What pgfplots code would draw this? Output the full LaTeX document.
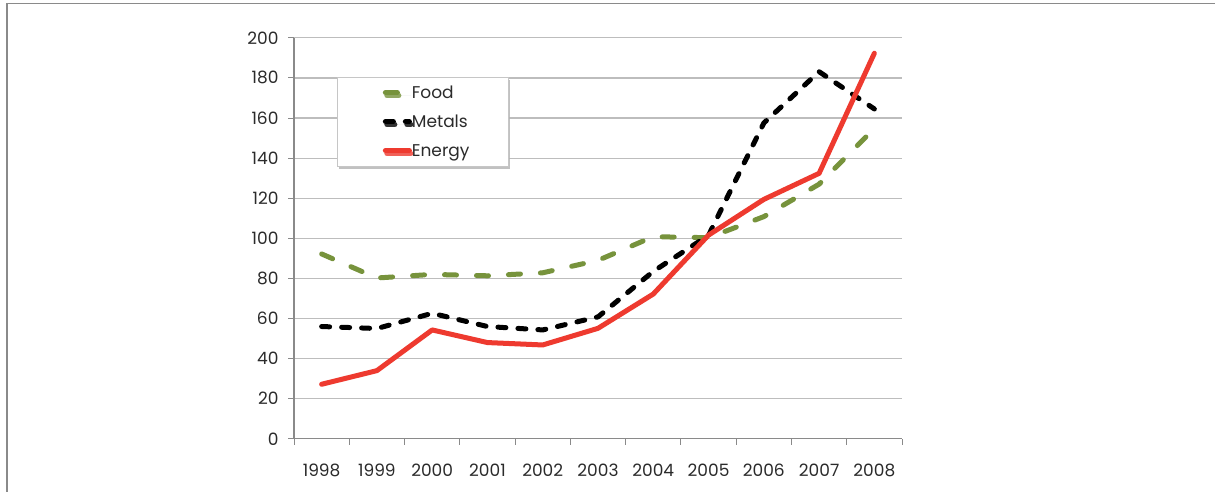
\documentclass[border=0pt]{standalone}
\usepackage{pgfplots}
\pgfplotsset{compat=1.18}
\usepackage{fontspec}
\setmainfont{Poppins}
\usetikzlibrary{shadows}
\definecolor{foodgreen}{HTML}{77933C}
\definecolor{energyred}{HTML}{EE3A2F}
\definecolor{axisgray}{HTML}{8A8A8A}
\definecolor{gridgray}{HTML}{BDBDBD}
\definecolor{txt}{HTML}{2B2B2B}
\begin{document}
\begin{tikzpicture}[x=1pt,y=1pt]
\useasboundingbox[fill=white] (0,0) rectangle (1215,491);
\draw[axisgray, line width=1.4pt] (7,-2) -- (7,487.7) -- (1217,487.7);
\begin{axis}[
  at={(294pt,52.2pt)}, anchor=south west,
  scale only axis, width=608pt, height=401pt,
  xmin=0, xmax=11, ymin=0, ymax=200,
  axis lines*=left,
  axis line style={axisgray, line width=1.2pt},
  xtick={0.5,1.5,...,10.5},
  xticklabels={1998,1999,2000,2001,2002,2003,2004,2005,2006,2007,2008},
  minor xtick={0,1,...,11},
  ytick={0,20,...,200},
  tick align=outside,
  major tick length=6pt, minor tick length=6pt,
  major x tick style={draw=none},
  minor x tick style={axisgray, line width=1pt},
  major y tick style={axisgray, line width=1pt},
  ymajorgrids,
  major grid style={gridgray, line width=1.2pt},
  /pgf/number format/assume math mode=true,
  tick label style={font=\fontsize{17}{20}\selectfont, text=txt},
  yticklabel style={xshift=-6pt},
  xticklabel style={yshift=-16pt},
  legend cell align=left,
  legend style={
    at={(0.0707,0.903)}, anchor=north west,
    draw=gray!45, line width=0.8pt, fill=white,
    drop shadow={shadow xshift=1.5pt, shadow yshift=-3pt, fill=gray!60, opacity=0.8},
    inner xsep=0pt, inner ysep=1pt,
    column sep=0pt, row sep=0pt,
    font=\fontsize{17}{20}\selectfont,
    text=txt,
    nodes={inner sep=0pt, text width=97pt, minimum height=29pt, text height=15pt, text depth=3pt},
  },
  legend image code/.code={
    \path (-45.5pt,0pt) (24pt,0pt);
    \draw[#1] (0pt,0pt) -- (24pt,0pt);
  },
]
\addplot[foodgreen, line width=5pt, line cap=round, line join=round, dash pattern=on 12pt off 20pt]
coordinates {(0.5,92.2) (1.5,80.2) (2.5,82) (3.5,81.3) (4.5,82.8) (5.5,89) (6.5,100.8) (7.5,100.3) (8.5,110.8) (9.5,127) (10.5,154.8)};
\addlegendentry{Food}
\addplot[black, line width=5pt, line cap=round, line join=round, dash pattern=on 8pt off 12pt]
coordinates {(0.5,56) (1.5,55) (2.5,62.6) (3.5,56) (4.5,54.3) (5.5,60.8) (6.5,83.5) (7.5,101.5) (8.5,157.5) (9.5,183.1) (10.5,164.5)};
\addlegendentry{Metals}
\addplot[energyred, line width=5pt, line cap=round, line join=round]
coordinates {(0.5,27.2) (1.5,34) (2.5,54.3) (3.5,48) (4.5,46.8) (5.5,55.1) (6.5,72.2) (7.5,101.6) (8.5,119.4) (9.5,132.4) (10.5,192.3)};
\addlegendentry{Energy}
\end{axis}
\end{tikzpicture}
\end{document}
